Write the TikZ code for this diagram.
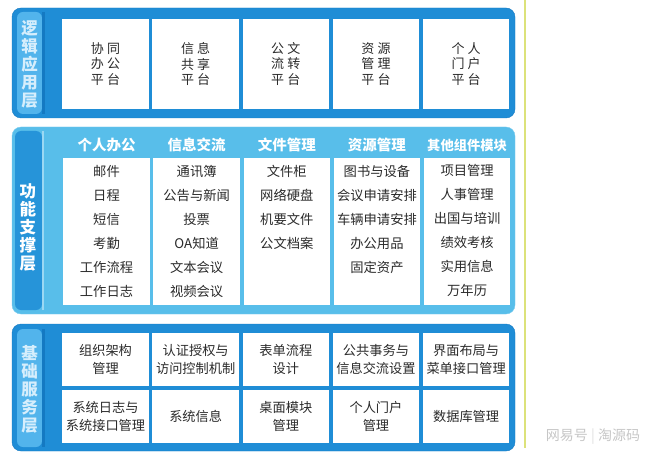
\documentclass[tikz,border=0pt]{standalone}
\usepackage{fontspec}
\setmainfont{Noto Sans CJK SC}
\newfontfamily\cjkwide[LetterSpace=24]{Noto Sans CJK SC}
\usetikzlibrary{positioning}

\definecolor{frameblue}{HTML}{1F8DD6}
\definecolor{frameedge}{HTML}{1479C2}
\definecolor{lightblue}{HTML}{58BEEA}
\definecolor{stripblue}{HTML}{52B4EC}
\definecolor{stripdark}{HTML}{2694D9}
\definecolor{paletext}{HTML}{D6EEFC}
\definecolor{textgray}{HTML}{2B2B2B}
\definecolor{yellowline}{HTML}{DCE27A}

\begin{document}
\begin{tikzpicture}[x=1pt,y=-1pt,
    app box/.style={fill=white,minimum width=86.5pt,minimum height=90pt,inner sep=0pt,
                    align=center,text=textgray,font=\cjkwide\fontsize{13}{15.5}\selectfont},
    col box/.style={fill=white,minimum width=86.5pt,minimum height=147pt,inner sep=0pt},
    col head/.style={inner sep=0pt,text=white,font=\bfseries\fontsize{14.5}{16}\selectfont},
    item list/.style={inner sep=0pt,align=center,text=textgray,font=\fontsize{13.3}{24}\selectfont},
    base box/.style={fill=white,minimum width=86.5pt,minimum height=53pt,inner sep=0pt,
                     align=center,text=textgray,font=\fontsize{13.2}{18}\selectfont},
    layer label/.style={inner sep=0pt,align=center,font=\bfseries\fontsize{16.5}{18}\selectfont}]
  \useasboundingbox (0,0) rectangle (660,457);

  % frames of the three layers
  \draw[frameedge,fill=frameblue,rounded corners=9pt] (12,8) rectangle (515,118);
  \fill[stripblue,rounded corners=6pt] (17,12) rectangle (42,114);
  \fill[frameedge] (42,12) rectangle (45,114);

  \draw[lightblue!80!white,fill=lightblue,rounded corners=9pt] (12,127) rectangle (515,314);
  \fill[stripdark,rounded corners=6pt] (15,131) rectangle (42,310);
  \fill[lightblue!60!white] (42,131) rectangle (44,310);

  \draw[frameedge,fill=frameblue,rounded corners=9pt] (12,324) rectangle (515,451);
  \fill[stripblue,rounded corners=6pt] (17,329) rectangle (42,447);
  \fill[frameedge] (42,329) rectangle (45,447);

  \draw[yellowline,line width=1.2pt] (525,0) -- (525,448);

  % layer names
  \node[layer label,text=paletext] (lbl1) at (29.5,64) {逻\\辑\\应\\用\\层};
  \node[layer label,text=white] (lbl2) at (28,227) {功\\能\\支\\撑\\层};
  \node[layer label,text=paletext] (lbl3) at (29.5,389) {基\\础\\服\\务\\层};

  % logic application layer
  \node[app box] (app1) at (105.5,64) {协同\\办公\\平台};
  \node[app box,right=3.25pt of app1] (app2) {信息\\共享\\平台};
  \node[app box,right=3.25pt of app2] (app3) {公文\\流转\\平台};
  \node[app box,right=3.25pt of app3] (app4) {资源\\管理\\平台};
  \node[app box,right=3.25pt of app4] (app5) {个人\\门户\\平台};

  % function support layer
  \node[col box] (col1) at (106.5,231.5) {};
  \node[col box,right=3.25pt of col1] (col2) {};
  \node[col box,right=3.25pt of col2] (col3) {};
  \node[col box,right=3.25pt of col3] (col4) {};
  \node[col box,right=3.25pt of col4] (col5) {};

  \node[col head,above=5.5pt of col1] (head1) {个人办公};
  \node[col head,above=5.5pt of col2] (head2) {信息交流};
  \node[col head,above=5.5pt of col3] (head3) {文件管理};
  \node[col head,above=5.5pt of col4] (head4) {资源管理};
  \node[col head,above=5.5pt of col5,font=\bfseries\fontsize{13.3}{16}\selectfont] (head5) {其他组件模块};

  \node[item list,below=7pt of col1.north] (items1) {邮件\\日程\\短信\\考勤\\工作流程\\工作日志};
  \node[item list,below=7pt of col2.north] (items2) {通讯簿\\公告与新闻\\投票\\OA知道\\文本会议\\视频会议};
  \node[item list,below=7pt of col3.north] (items3) {文件柜\\网络硬盘\\机要文件\\公文档案};
  \node[item list,below=7pt of col4.north] (items4) {图书与设备\\会议申请安排\\车辆申请安排\\办公用品\\固定资产};
  \node[item list,below=6pt of col5.north] (items5) {项目管理\\人事管理\\出国与培训\\绩效考核\\实用信息\\万年历};

  % base service layer
  \node[base box] (base1) at (105.5,359.5) {组织架构\\管理};
  \node[base box,right=3.25pt of base1] (base2) {认证授权与\\访问控制机制};
  \node[base box,right=3.25pt of base2] (base3) {表单流程\\设计};
  \node[base box,right=3.25pt of base3] (base4) {公共事务与\\信息交流设置};
  \node[base box,right=3.25pt of base4] (base5) {界面布局与\\菜单接口管理};
  \node[base box,below=3.5pt of base1] (base6) {系统日志与\\系统接口管理};
  \node[base box,right=3.25pt of base6] (base7) {系统信息};
  \node[base box,right=3.25pt of base7] (base8) {桌面模块\\管理};
  \node[base box,right=3.25pt of base8] (base9) {个人门户\\管理};
  \node[base box,right=3.25pt of base9] (base10) {数据库管理};

  \node[text=gray!45,font=\fontsize{14}{16}\selectfont] (mark) at (593,437) {网易号 {\color{gray!25}|} 淘源码};
\end{tikzpicture}
\end{document}
